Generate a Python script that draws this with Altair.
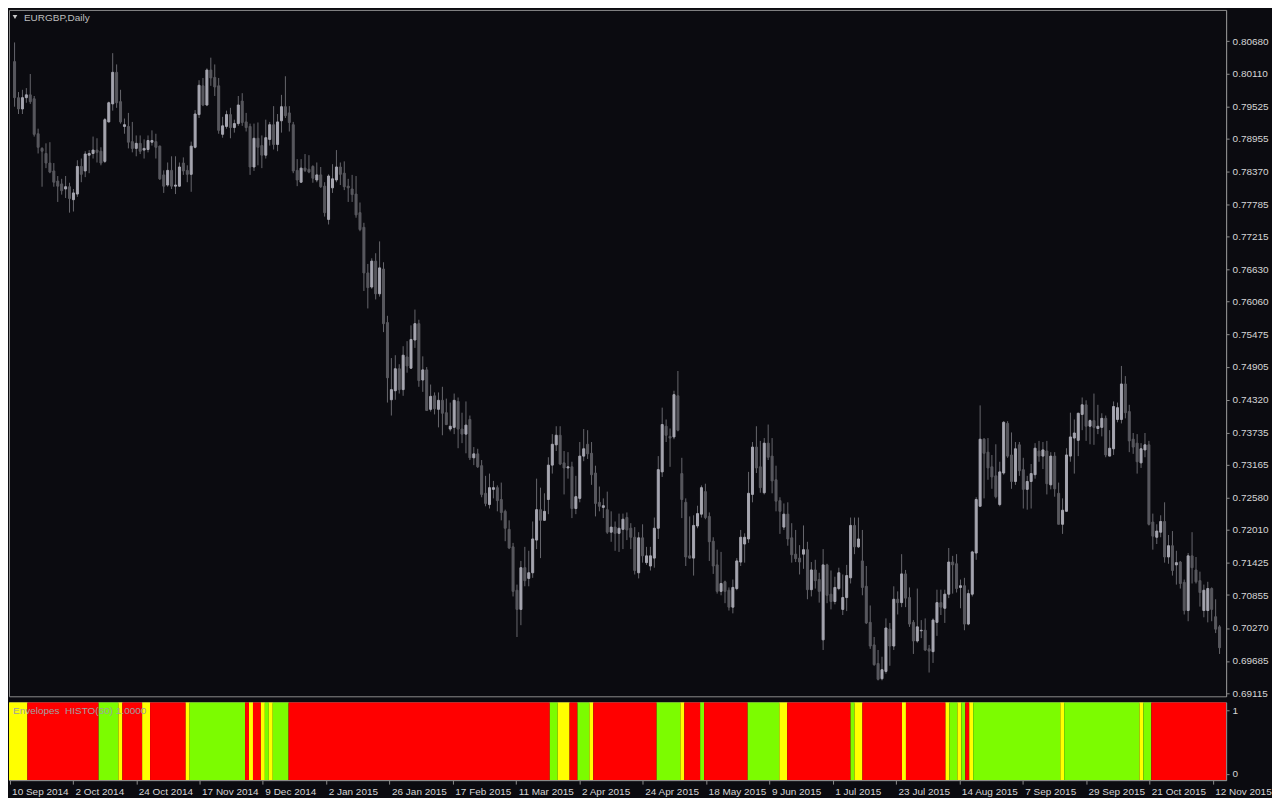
import altair as alt
import pandas as pd
import numpy as np

# ---------------- data (EURGBP daily candles) ----------------
OPEN = [
 0.8032, 0.7968, 0.7948, 0.7968, 0.7973, 0.7966, 0.7904, 0.7878, 0.7869, 0.7852, 0.7838, 0.7820, 0.7815, 0.7806, 0.7810, 0.7787,
 0.7797, 0.7846, 0.7838, 0.7866, 0.7869, 0.7875, 0.7873, 0.7855, 0.7925, 0.7957, 0.8013, 0.7961, 0.7917, 0.7917, 0.7890, 0.7878,
 0.7887, 0.7875, 0.7876, 0.7889, 0.7890, 0.7882, 0.7831, 0.7813, 0.7839, 0.7811, 0.7811, 0.7852, 0.7839, 0.7832, 0.7880, 0.7938,
 0.7989, 0.7955, 0.8017, 0.8004, 0.7989, 0.7903, 0.7917, 0.7938, 0.7915, 0.7922, 0.7962, 0.7925, 0.7917, 0.7845, 0.7896, 0.7883,
 0.7866, 0.7894, 0.7920, 0.7885, 0.7927, 0.7952, 0.7941, 0.7920, 0.7839, 0.7818, 0.7843, 0.7841, 0.7846, 0.7822, 0.7831, 0.7811,
 0.7752, 0.7808, 0.7822, 0.7845, 0.7834, 0.7811, 0.7806, 0.7797, 0.7764, 0.7738, 0.7657, 0.7632, 0.7678, 0.7620, 0.7664, 0.7569,
 0.7432, 0.7448, 0.7487, 0.7450, 0.7508, 0.7488, 0.7538, 0.7567, 0.7467, 0.7485, 0.7415, 0.7439, 0.7415, 0.7431, 0.7409, 0.7380,
 0.7383, 0.7429, 0.7380, 0.7371, 0.7397, 0.7329, 0.7336, 0.7315, 0.7266, 0.7246, 0.7273, 0.7276, 0.7255, 0.7234, 0.7202, 0.7171,
 0.7094, 0.7060, 0.7134, 0.7115, 0.7125, 0.7183, 0.7237, 0.7218, 0.7255, 0.7316, 0.7352, 0.7369, 0.7320, 0.7311, 0.7313, 0.7239,
 0.7257, 0.7332, 0.7353, 0.7337, 0.7302, 0.7250, 0.7241, 0.7237, 0.7197, 0.7206, 0.7195, 0.7202, 0.7223, 0.7204, 0.7188, 0.7125,
 0.7187, 0.7143, 0.7137, 0.7151, 0.7204, 0.7304, 0.7385, 0.7367, 0.7366, 0.7439, 0.7301, 0.7250, 0.7155, 0.7151, 0.7208, 0.7229,
 0.7269, 0.7225, 0.7181, 0.7139, 0.7092, 0.7109, 0.7094, 0.7064, 0.7097, 0.7144, 0.7176, 0.7185, 0.7264, 0.7348, 0.7313, 0.7267,
 0.7355, 0.7332, 0.7290, 0.7253, 0.7206, 0.7229, 0.7187, 0.7158, 0.7151, 0.7158, 0.7166, 0.7095, 0.7130, 0.7113, 0.7006, 0.7139,
 0.7087, 0.7074, 0.7097, 0.7060, 0.7081, 0.7116, 0.7209, 0.7171, 0.7146, 0.7101, 0.7037, 0.6997, 0.6964, 0.6937, 0.6950, 0.7025,
 0.6995, 0.7078, 0.7072, 0.7123, 0.7081, 0.7037, 0.7004, 0.7022, 0.7023, 0.6990, 0.6985, 0.7037, 0.7072, 0.7062, 0.7087, 0.7144,
 0.7141, 0.7099, 0.7102, 0.7034, 0.7087, 0.7160, 0.7243, 0.7362, 0.7339, 0.7313, 0.7297, 0.7246, 0.7302, 0.7390, 0.7334, 0.7287,
 0.7352, 0.7308, 0.7273, 0.7287, 0.7299, 0.7341, 0.7332, 0.7341, 0.7281, 0.7332, 0.7266, 0.7211, 0.7234, 0.7332, 0.7364, 0.7360,
 0.7406, 0.7423, 0.7385, 0.7395, 0.7381, 0.7383, 0.7399, 0.7332, 0.7345, 0.7397, 0.7397, 0.7460, 0.7411, 0.7362, 0.7355, 0.7320,
 0.7343, 0.7352, 0.7215, 0.7188, 0.7197, 0.7216, 0.7153, 0.7173, 0.7139, 0.7144, 0.7108, 0.7058, 0.7155, 0.7130, 0.7111, 0.7058,
 0.7058, 0.7097, 0.7047, 0.7029,
]
HIGH = [
 0.8066, 0.7978, 0.7982, 0.7985, 0.8010, 0.7971, 0.7913, 0.7880, 0.7887, 0.7889, 0.7852, 0.7829, 0.7824, 0.7829, 0.7817, 0.7806,
 0.7857, 0.7860, 0.7873, 0.7875, 0.7899, 0.7896, 0.7880, 0.7932, 0.7961, 0.8047, 0.8027, 0.7982, 0.7931, 0.7941, 0.7925, 0.7901,
 0.7901, 0.7894, 0.7901, 0.7910, 0.7904, 0.7883, 0.7839, 0.7853, 0.7864, 0.7864, 0.7853, 0.7862, 0.7848, 0.7890, 0.7946, 0.7999,
 0.8003, 0.8020, 0.8039, 0.8027, 0.8003, 0.7934, 0.7945, 0.7950, 0.7929, 0.7971, 0.7976, 0.7941, 0.7922, 0.7922, 0.7924, 0.7901,
 0.7929, 0.7925, 0.7953, 0.7939, 0.7973, 0.8006, 0.7953, 0.7925, 0.7859, 0.7859, 0.7868, 0.7866, 0.7848, 0.7853, 0.7845, 0.7818,
 0.7832, 0.7850, 0.7875, 0.7853, 0.7855, 0.7824, 0.7831, 0.7829, 0.7782, 0.7746, 0.7673, 0.7683, 0.7692, 0.7713, 0.7676, 0.7581,
 0.7506, 0.7511, 0.7495, 0.7527, 0.7536, 0.7564, 0.7592, 0.7574, 0.7509, 0.7490, 0.7459, 0.7445, 0.7445, 0.7455, 0.7434, 0.7427,
 0.7443, 0.7436, 0.7409, 0.7429, 0.7404, 0.7348, 0.7345, 0.7325, 0.7297, 0.7301, 0.7288, 0.7280, 0.7285, 0.7237, 0.7218, 0.7178,
 0.7104, 0.7146, 0.7171, 0.7164, 0.7216, 0.7292, 0.7276, 0.7266, 0.7330, 0.7371, 0.7385, 0.7385, 0.7341, 0.7339, 0.7322, 0.7297,
 0.7357, 0.7380, 0.7378, 0.7357, 0.7315, 0.7278, 0.7257, 0.7269, 0.7234, 0.7216, 0.7230, 0.7230, 0.7232, 0.7213, 0.7206, 0.7197,
 0.7211, 0.7171, 0.7171, 0.7223, 0.7332, 0.7418, 0.7397, 0.7381, 0.7448, 0.7483, 0.7329, 0.7257, 0.7225, 0.7227, 0.7244, 0.7280,
 0.7283, 0.7232, 0.7188, 0.7166, 0.7162, 0.7111, 0.7099, 0.7113, 0.7151, 0.7201, 0.7195, 0.7304, 0.7357, 0.7385, 0.7359, 0.7364,
 0.7388, 0.7364, 0.7315, 0.7259, 0.7248, 0.7250, 0.7213, 0.7201, 0.7174, 0.7209, 0.7180, 0.7144, 0.7148, 0.7125, 0.7167, 0.7141,
 0.7129, 0.7118, 0.7134, 0.7122, 0.7139, 0.7223, 0.7223, 0.7223, 0.7201, 0.7137, 0.7067, 0.7011, 0.6988, 0.6976, 0.7044, 0.7036,
 0.7101, 0.7092, 0.7158, 0.7130, 0.7099, 0.7041, 0.7097, 0.7041, 0.7044, 0.6997, 0.7044, 0.7095, 0.7095, 0.7095, 0.7169, 0.7155,
 0.7158, 0.7113, 0.7116, 0.7095, 0.7164, 0.7259, 0.7422, 0.7364, 0.7364, 0.7334, 0.7353, 0.7322, 0.7394, 0.7394, 0.7374, 0.7357,
 0.7357, 0.7329, 0.7297, 0.7318, 0.7355, 0.7359, 0.7357, 0.7359, 0.7339, 0.7339, 0.7285, 0.7257, 0.7346, 0.7409, 0.7397, 0.7409,
 0.7436, 0.7431, 0.7397, 0.7443, 0.7423, 0.7408, 0.7404, 0.7378, 0.7429, 0.7427, 0.7492, 0.7474, 0.7423, 0.7373, 0.7371, 0.7355,
 0.7373, 0.7359, 0.7230, 0.7211, 0.7227, 0.7250, 0.7192, 0.7199, 0.7164, 0.7146, 0.7113, 0.7160, 0.7197, 0.7153, 0.7127, 0.7104,
 0.7109, 0.7099, 0.7078, 0.7032,
]
LOW = [
 0.7952, 0.7939, 0.7939, 0.7959, 0.7957, 0.7899, 0.7869, 0.7810, 0.7843, 0.7834, 0.7810, 0.7783, 0.7796, 0.7790, 0.7764, 0.7766,
 0.7792, 0.7818, 0.7827, 0.7834, 0.7860, 0.7853, 0.7848, 0.7852, 0.7924, 0.7945, 0.7950, 0.7922, 0.7904, 0.7878, 0.7871, 0.7864,
 0.7868, 0.7860, 0.7871, 0.7883, 0.7860, 0.7822, 0.7799, 0.7810, 0.7806, 0.7797, 0.7810, 0.7831, 0.7818, 0.7801, 0.7878, 0.7932,
 0.7953, 0.7953, 0.7989, 0.7971, 0.7904, 0.7897, 0.7913, 0.7896, 0.7906, 0.7918, 0.7918, 0.7908, 0.7831, 0.7838, 0.7848, 0.7843,
 0.7860, 0.7883, 0.7876, 0.7873, 0.7906, 0.7932, 0.7908, 0.7834, 0.7811, 0.7817, 0.7836, 0.7834, 0.7817, 0.7818, 0.7808, 0.7757,
 0.7743, 0.7799, 0.7818, 0.7813, 0.7804, 0.7783, 0.7783, 0.7755, 0.7731, 0.7625, 0.7594, 0.7629, 0.7610, 0.7615, 0.7552, 0.7427,
 0.7404, 0.7432, 0.7443, 0.7439, 0.7480, 0.7487, 0.7524, 0.7455, 0.7446, 0.7413, 0.7411, 0.7406, 0.7383, 0.7369, 0.7387, 0.7376,
 0.7371, 0.7346, 0.7355, 0.7337, 0.7325, 0.7316, 0.7311, 0.7259, 0.7243, 0.7239, 0.7257, 0.7234, 0.7218, 0.7181, 0.7167, 0.7083,
 0.7011, 0.7032, 0.7101, 0.7101, 0.7116, 0.7167, 0.7151, 0.7218, 0.7229, 0.7301, 0.7341, 0.7316, 0.7264, 0.7292, 0.7222, 0.7229,
 0.7250, 0.7323, 0.7327, 0.7281, 0.7225, 0.7234, 0.7222, 0.7194, 0.7180, 0.7164, 0.7162, 0.7167, 0.7183, 0.7167, 0.7122, 0.7115,
 0.7143, 0.7139, 0.7129, 0.7134, 0.7185, 0.7295, 0.7357, 0.7313, 0.7362, 0.7376, 0.7222, 0.7137, 0.7150, 0.7120, 0.7204, 0.7223,
 0.7220, 0.7146, 0.7123, 0.7088, 0.7085, 0.7071, 0.7058, 0.7053, 0.7094, 0.7137, 0.7143, 0.7178, 0.7250, 0.7302, 0.7267, 0.7264,
 0.7325, 0.7266, 0.7234, 0.7194, 0.7201, 0.7173, 0.7143, 0.7144, 0.7122, 0.7132, 0.7078, 0.7083, 0.7097, 0.7072, 0.6988, 0.7071,
 0.7060, 0.7069, 0.7094, 0.7050, 0.7057, 0.7106, 0.7158, 0.7169, 0.7085, 0.7034, 0.6990, 0.6960, 0.6934, 0.6934, 0.6946, 0.6960,
 0.6988, 0.7051, 0.7064, 0.7064, 0.7029, 0.6981, 0.7001, 0.7009, 0.6986, 0.6948, 0.6965, 0.7013, 0.7050, 0.7036, 0.7080, 0.7088,
 0.7090, 0.7062, 0.7023, 0.7032, 0.7083, 0.7148, 0.7243, 0.7257, 0.7290, 0.7274, 0.7257, 0.7243, 0.7299, 0.7329, 0.7274, 0.7281,
 0.7297, 0.7239, 0.7237, 0.7239, 0.7292, 0.7322, 0.7309, 0.7264, 0.7273, 0.7260, 0.7211, 0.7194, 0.7234, 0.7322, 0.7301, 0.7332,
 0.7378, 0.7359, 0.7353, 0.7352, 0.7371, 0.7367, 0.7330, 0.7332, 0.7334, 0.7392, 0.7390, 0.7399, 0.7339, 0.7336, 0.7301, 0.7311,
 0.7330, 0.7209, 0.7166, 0.7176, 0.7188, 0.7143, 0.7141, 0.7120, 0.7104, 0.7097, 0.7051, 0.7039, 0.7106, 0.7106, 0.7065, 0.7046,
 0.7037, 0.7039, 0.7018, 0.6981,
]
CLOSE = [
 0.7968, 0.7948, 0.7968, 0.7973, 0.7961, 0.7903, 0.7880, 0.7873, 0.7852, 0.7836, 0.7818, 0.7811, 0.7803, 0.7810, 0.7789, 0.7799,
 0.7846, 0.7832, 0.7868, 0.7869, 0.7875, 0.7871, 0.7852, 0.7929, 0.7959, 0.8013, 0.7959, 0.7925, 0.7920, 0.7889, 0.7878, 0.7887,
 0.7873, 0.7878, 0.7892, 0.7892, 0.7880, 0.7824, 0.7811, 0.7839, 0.7811, 0.7813, 0.7845, 0.7838, 0.7832, 0.7882, 0.7939, 0.7990,
 0.7955, 0.8017, 0.8003, 0.7987, 0.7910, 0.7918, 0.7938, 0.7915, 0.7922, 0.7955, 0.7924, 0.7915, 0.7845, 0.7896, 0.7880, 0.7866,
 0.7897, 0.7920, 0.7885, 0.7925, 0.7952, 0.7936, 0.7924, 0.7838, 0.7822, 0.7843, 0.7839, 0.7836, 0.7825, 0.7831, 0.7810, 0.7764,
 0.7829, 0.7824, 0.7845, 0.7832, 0.7810, 0.7808, 0.7796, 0.7760, 0.7734, 0.7657, 0.7631, 0.7678, 0.7620, 0.7666, 0.7567, 0.7471,
 0.7450, 0.7487, 0.7450, 0.7511, 0.7492, 0.7539, 0.7567, 0.7466, 0.7485, 0.7413, 0.7438, 0.7416, 0.7431, 0.7408, 0.7388, 0.7385,
 0.7431, 0.7380, 0.7371, 0.7387, 0.7329, 0.7336, 0.7313, 0.7264, 0.7248, 0.7276, 0.7276, 0.7253, 0.7232, 0.7204, 0.7169, 0.7092,
 0.7060, 0.7134, 0.7111, 0.7125, 0.7185, 0.7237, 0.7218, 0.7234, 0.7316, 0.7353, 0.7369, 0.7318, 0.7311, 0.7313, 0.7239, 0.7260,
 0.7332, 0.7345, 0.7336, 0.7299, 0.7248, 0.7243, 0.7244, 0.7197, 0.7206, 0.7195, 0.7204, 0.7220, 0.7201, 0.7188, 0.7129, 0.7187,
 0.7155, 0.7155, 0.7155, 0.7204, 0.7308, 0.7388, 0.7369, 0.7364, 0.7441, 0.7378, 0.7255, 0.7153, 0.7151, 0.7209, 0.7230, 0.7276,
 0.7223, 0.7180, 0.7137, 0.7092, 0.7106, 0.7092, 0.7064, 0.7099, 0.7146, 0.7188, 0.7188, 0.7266, 0.7348, 0.7311, 0.7276, 0.7355,
 0.7330, 0.7288, 0.7252, 0.7234, 0.7229, 0.7185, 0.7157, 0.7150, 0.7144, 0.7166, 0.7095, 0.7130, 0.7111, 0.7092, 0.7139, 0.7085,
 0.7074, 0.7099, 0.7125, 0.7081, 0.7120, 0.7209, 0.7171, 0.7185, 0.7099, 0.7036, 0.6995, 0.6962, 0.6936, 0.6953, 0.7027, 0.6995,
 0.7078, 0.7072, 0.7123, 0.7080, 0.7034, 0.7004, 0.7029, 0.7023, 0.6988, 0.6986, 0.7041, 0.7072, 0.7064, 0.7087, 0.7144, 0.7139,
 0.7097, 0.7102, 0.7034, 0.7088, 0.7162, 0.7255, 0.7362, 0.7337, 0.7311, 0.7295, 0.7260, 0.7304, 0.7392, 0.7332, 0.7287, 0.7345,
 0.7306, 0.7273, 0.7287, 0.7301, 0.7346, 0.7332, 0.7343, 0.7283, 0.7332, 0.7274, 0.7211, 0.7236, 0.7334, 0.7366, 0.7373, 0.7408,
 0.7423, 0.7385, 0.7395, 0.7383, 0.7385, 0.7399, 0.7334, 0.7346, 0.7420, 0.7418, 0.7460, 0.7409, 0.7359, 0.7348, 0.7322, 0.7345,
 0.7352, 0.7211, 0.7190, 0.7199, 0.7216, 0.7153, 0.7173, 0.7129, 0.7143, 0.7106, 0.7058, 0.7155, 0.7134, 0.7109, 0.7090, 0.7094,
 0.7097, 0.7060, 0.7025, 0.6992,
]

# bottom-axis date labels (one every 16 bars)
DATE_LABELS = ["10 Sep 2014", "2 Oct 2014", "24 Oct 2014", "17 Nov 2014", "9 Dec 2014",
               "2 Jan 2015", "26 Jan 2015", "17 Feb 2015", "11 Mar 2015", "2 Apr 2015",
               "24 Apr 2015", "18 May 2015", "9 Jun 2015", "1 Jul 2015", "23 Jul 2015",
               "14 Aug 2015", "7 Sep 2015", "29 Sep 2015", "21 Oct 2015", "12 Nov 2015"]
DATE_STEP = 16

# right-axis price labels
PRICE_TICKS = [0.80680, 0.80110, 0.79525, 0.78955, 0.78370, 0.77785, 0.77215, 0.76630,
               0.76060, 0.75475, 0.74905, 0.74320, 0.73735, 0.73165, 0.72580, 0.72010,
               0.71425, 0.70855, 0.70270, 0.69685, 0.69115]

# Envelopes HISTO indicator: colour state per bar, as runs
HIST_STATES = ["Y", "R", "G", "Y", "R", "Y", "R", "Y", "G", "R", "Y", "R", "Y", "G", "Y", "G",
               "R", "G", "Y", "R", "G", "Y", "R", "G", "Y", "R", "G", "R", "G", "Y", "R", "G",
               "Y", "R", "Y", "R", "Y", "G", "Y", "G", "R", "Y", "G", "Y", "G", "Y", "G", "R"]
HIST_RUNS = [5, 18, 5, 1, 5, 2, 9, 1, 14, 1, 1, 2, 1, 1, 1, 4,
             66, 2, 3, 2, 3, 1, 16, 6, 1, 4, 1, 11, 8, 2, 16, 1,
             2, 10, 1, 10, 1, 2, 1, 1, 1, 1, 22, 1, 19, 1, 2, 19]
HIST_VALUE = 1

# ---------------- styling ----------------
BG = "#0B0B10"
FRAME = "#8C8C8C"
TXT = "#D6D6D6"
UP_C = "#A6A6B0"
DN_C = "#58585E"
WICK_C = "#66666C"
FONT = "Liberation Sans"

n = len(CLOSE)
assert len(OPEN) == n and len(HIGH) == n and len(LOW) == n, (len(OPEN), len(HIGH), len(LOW), n)

df = pd.DataFrame({"i": np.arange(n), "open": OPEN, "high": HIGH, "low": LOW, "close": CLOSE})
df["high"] = df[["high", "open", "close"]].max(axis=1)
df["low"] = df[["low", "open", "close"]].min(axis=1)
df["dir"] = np.where(df["close"] >= df["open"], "up", "down")

# one rectangle per run of equal colour (avoids seams between bars)
starts = np.concatenate([[0], np.cumsum(HIST_RUNS)[:-1]])
hdf = pd.DataFrame({"start": starts, "count": HIST_RUNS, "state": HIST_STATES, "v": HIST_VALUE})

x_scale = alt.Scale(domain=[-0.15, 307.4], nice=False, zero=False)
y_scale = alt.Scale(domain=[0.69058, 0.81237], nice=False, zero=False)
dir_scale = alt.Scale(domain=["up", "down"], range=[UP_C, DN_C])

price_axis = alt.Axis(orient="right", values=PRICE_TICKS, format=".5f", grid=False,
                      labelColor=TXT, labelFont=FONT, labelFontSize=10,
                      labelOverlap=False, labelBound=False, labelFlush=False,
                      tickColor=FRAME, tickSize=3, labelPadding=3,
                      domainColor=FRAME)

W = 1220
base = alt.Chart(df)
wicks = base.mark_rule(color=WICK_C, strokeWidth=1, clip=True).encode(
    x=alt.X("i:Q", scale=x_scale, axis=None),
    y=alt.Y("low:Q", scale=y_scale, title=None, axis=price_axis),
    y2="high:Q",
)
bodies = base.mark_bar(size=2, strokeWidth=1, clip=True).encode(
    x=alt.X("i:Q", scale=x_scale, axis=None),
    y=alt.Y("open:Q", scale=y_scale, title=None, axis=price_axis),
    y2="close:Q",
    color=alt.Color("dir:N", scale=dir_scale, legend=None),
    stroke=alt.Stroke("dir:N", scale=dir_scale, legend=None),
)
title_df = pd.DataFrame({"t": ["EURGBP,Daily"]})
title_txt = alt.Chart(title_df).mark_text(
    align="left", baseline="middle", font=FONT, fontSize=10, color="#BEBEBE"
).encode(text="t:N", x=alt.value(15), y=alt.value(8))
tri = alt.Chart(title_df).mark_point(
    shape="triangle-down", filled=True, size=22, color="#C8C8C8", opacity=1
).encode(x=alt.value(6), y=alt.value(7))

main = alt.layer(wicks, bodies, title_txt, tri).properties(width=W, height=688)

label_js = "[" + ",".join("'" + s + "'" for s in DATE_LABELS) + "]"
hist_rect = alt.Chart(hdf).transform_calculate(
    x0="datum.start - 0.5", x1="datum.start + datum.count - 0.5"
).mark_rect(clip=True).encode(
    x=alt.X("x0:Q", scale=x_scale, title=None,
            axis=alt.Axis(orient="bottom", values=list(range(0, n, DATE_STEP)),
                          labelExpr=label_js + "[round(datum.value / " + str(DATE_STEP) + ")]",
                          labelAlign="left", labelOffset=2, labelColor=TXT, labelFont=FONT,
                          labelFontSize=10, tickColor=FRAME, tickSize=4, labelPadding=2,
                          domainColor=FRAME, grid=False, labelOverlap=False, labelBound=False)),
    x2="x1:Q",
    y=alt.Y("v:Q", scale=alt.Scale(domain=[0, 1], nice=False), title=None,
            axis=alt.Axis(orient="right", values=[0.08, 0.9],
                          labelExpr="datum.value > 0.5 ? '1' : '0'",
                          labelColor=TXT, labelFont=FONT, labelFontSize=10,
                          tickColor=FRAME, tickSize=3, labelPadding=3,
                          domainColor=FRAME, grid=False)),
    y2=alt.datum(0),
    color=alt.Color("state:N", scale=alt.Scale(domain=["R", "G", "Y"],
                                                range=["#FF0000", "#7CFC00", "#FFFF00"]),
                    legend=None),
)
hist_lab = alt.Chart(pd.DataFrame({"t": ["Envelopes\u00a0 HISTO(60) 1.0000"]})).mark_text(
    align="left", baseline="middle", font=FONT, fontSize=10, color="#A0A0A0"
).encode(text="t:N", x=alt.value(4), y=alt.value(9))
hist = alt.layer(hist_rect, hist_lab).properties(width=W, height=78)

chart = alt.vconcat(main, hist, spacing=2).resolve_scale(
    color="independent", stroke="independent"
).properties(
    padding={"left": 0, "top": 0, "right": 0, "bottom": 0}
).configure(background=BG).configure_view(
    stroke=FRAME, strokeWidth=1
).configure_axis(labelOverlap=False)

chart.save("out.html", embed_options={"renderer": "svg", "actions": False})
